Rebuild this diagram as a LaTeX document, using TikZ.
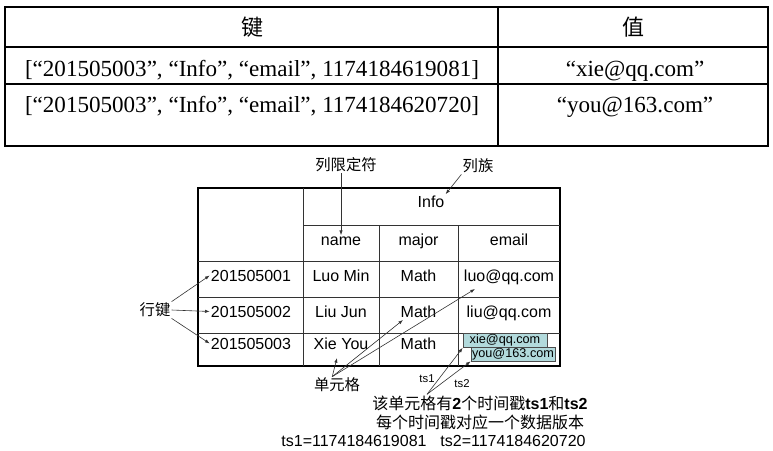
\documentclass[tikz,border=0pt]{standalone}
\usepackage{fontspec}
\setmainfont{Liberation Serif}
\newfontfamily\cjk{Noto Sans CJK SC}
\newfontfamily\arial{Liberation Sans}
\usetikzlibrary{arrows.meta}
\definecolor{cellfill}{RGB}{178,218,220}
\newcommand{\zhtxt}[1]{{\cjk #1}}
\newcommand{\bdtxt}[1]{{\arial\bfseries #1}}

\tikzset{
  keytxt/.style={font=\fontsize{17.3}{20}\selectfont, inner sep=0.75pt},
  hbtxt/.style={font=\arial\fontsize{12}{14}\selectfont, inner sep=0.75pt, anchor=base},
  zhlbl/.style={font=\cjk\fontsize{11.5}{14}\selectfont, inner sep=0.75pt},
  tstxt/.style={font=\arial\fontsize{8.5}{10}\selectfont, inner sep=0.75pt},
  notetxt/.style={font=\arial\fontsize{12}{14}\selectfont, inner sep=0.75pt},
  ptr/.style={draw=black!80, line width=0.45pt, -{Latex[length=3.5pt,width=2.5pt]}},
  verbox/.style={draw=black!70, fill=cellfill, line width=0.5pt, minimum width=63pt, minimum height=10.5pt, inner sep=0pt, font=\arial\fontsize{9.5}{10}\selectfont},
}

\begin{document}
\begin{tikzpicture}[x=0.75pt,y=0.75pt,yscale=-1,xscale=1]
\useasboundingbox (0,0) rectangle (773,450);

%Key-value table
\draw[line width=1pt] (5,7) rectangle (768,146);
\draw[line width=1pt] (5,47) -- (768,47);
\draw[line width=1pt] (5,84) -- (768,84);
\draw[line width=1pt] (498,7) -- (498,146);

% Text Node
\node[keytxt, font=\cjk\fontsize{16.5}{20}\selectfont] (key) at (252,27) {键};
\node[keytxt, font=\cjk\fontsize{16.5}{20}\selectfont] (val) at (633,27) {值};
\node[keytxt, anchor=base] (k1) at (252,76) {[“201505003”, “Info”, “email”, 1174184619081]};
\node[keytxt, anchor=base] (v1) at (635,76) {“xie@qq.com”};
\node[keytxt, anchor=base] (k2) at (252,112) {[“201505003”, “Info”, “email”, 1174184620720]};
\node[keytxt, anchor=base] (v2) at (635,112) {“you@163.com”};

%HBase table
\draw[line width=1.5pt] (198,188) rectangle (560,366);
\draw[line width=0.6pt, black!80] (303,188) -- (303,366);
\draw[line width=0.6pt, black!80] (303,225) -- (560,225);
\draw[line width=0.6pt, black!80] (379,225) -- (379,366);
\draw[line width=0.6pt, black!80] (458,225) -- (458,366);
\draw[line width=0.6pt, black!80] (198,261) -- (560,261);
\draw[line width=0.6pt, black!80] (198,297) -- (560,297);
\draw[line width=0.6pt, black!80] (198,333) -- (560,333);

% Text Node
\node[hbtxt] (info) at (431,207) {Info};
\node[hbtxt] (name) at (341,245) {name};
\node[hbtxt] (major) at (418.5,245) {major};
\node[hbtxt] (email) at (509,245) {email};
\node[hbtxt] (r1) at (251,281) {201505001};
\node[hbtxt] (r1name) at (341,281) {Luo Min};
\node[hbtxt] (r1major) at (418.5,281) {Math};
\node[hbtxt] (r1email) at (509,281) {luo@qq.com};
\node[hbtxt] (r2) at (251,317) {201505002};
\node[hbtxt] (r2name) at (341,317) {Liu Jun};
\node[hbtxt] (r2major) at (418.5,317) {Math};
\node[hbtxt] (r2email) at (509,317) {liu@qq.com};
\node[hbtxt] (r3) at (251,349) {201505003};
\node[hbtxt] (r3name) at (341,349) {Xie You};
\node[hbtxt] (r3major) at (418.5,349) {Math};

% Versions
\node[verbox] (xie) at (505,340.5) {xie@qq.com};
\node[verbox] (you) at (513,354) {you@163.com};

% Labels
\node[zhlbl] (colq) at (346,165) {列限定符};
\node[zhlbl] (colfam) at (478,166) {列族};
\node[zhlbl] (rowkey) at (155,310) {行键};
\node[zhlbl] (cellq) at (337,385) {单元格};
\node[tstxt] (ts1) at (427,379) {ts1};
\node[tstxt] (ts2) at (462,384) {ts2};
\node[notetxt] (note1) at (480,403) {\zhtxt{该单元格有}\bdtxt{2}\zhtxt{个时间戳}\bdtxt{ts1}\zhtxt{和}\bdtxt{ts2}};
\node[notetxt] (note2) at (480,422) {\zhtxt{每个时间戳对应一个数据版本}};
\node[notetxt] (note3a) at (354,441) {ts1=1174184619081};
\node[notetxt] (note3b) at (513,441) {ts2=1174184620720};

\coordinate (pXie) at (337,358);
\coordinate (pMath) at (403,320);
\coordinate (pLuo) at (475,289);

%Arrows
\draw[ptr] (colq.south -| name.north) -- (name.north);
\draw[ptr] (colfam.south west) -- (info.north east);
\draw[ptr] (rowkey.north east) -- (r1.west);
\draw[ptr] (rowkey.east) -- (r2.west);
\draw[ptr] (rowkey.south east) -- (r3.west);
\draw[ptr] (cellq.120) -- (pXie);
\draw[ptr] (cellq.120) -- (pMath);
\draw[ptr] (cellq.120) -- (pLuo);
\draw[ptr] (note1.north -| ts1) -- (xie.south west);
\draw[ptr] (note1.north -| ts1) -- (you.south west);

\end{tikzpicture}
\end{document}
